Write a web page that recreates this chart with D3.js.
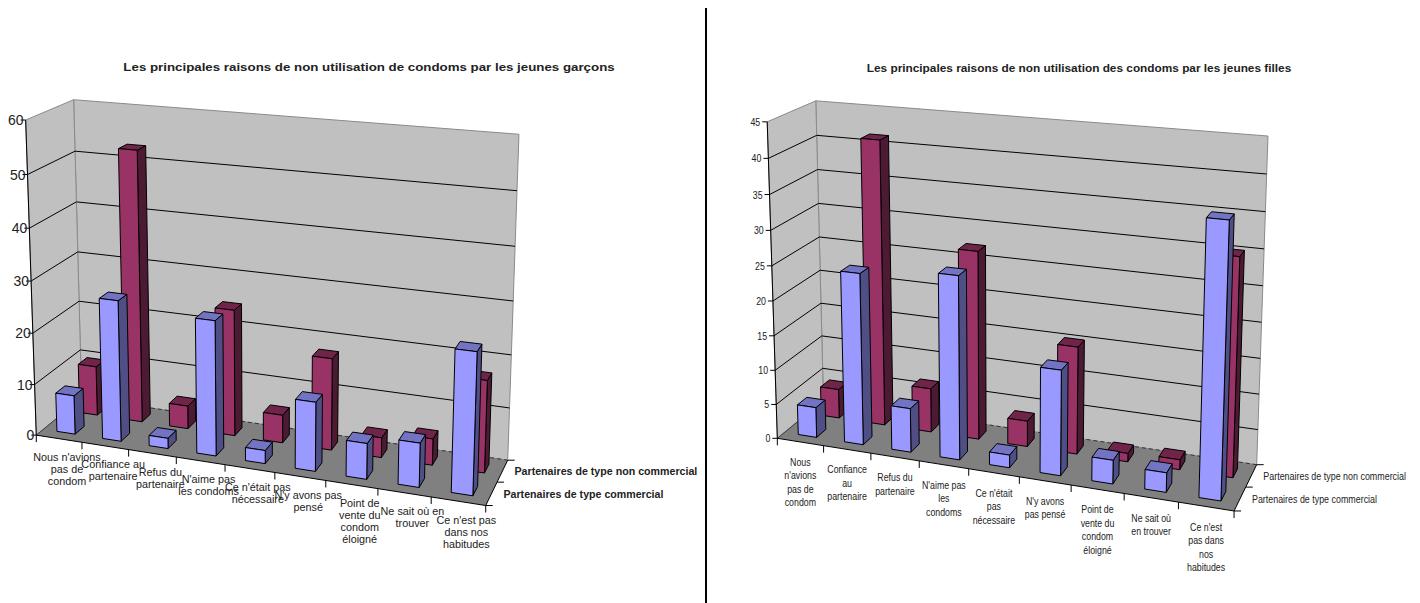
<!DOCTYPE html>
<html lang="fr">
<head>
<meta charset="utf-8">
<title>Raisons de non utilisation des condoms</title>
<script src="https://cdn.jsdelivr.net/npm/d3@7"></script>
<style>
  html, body { margin: 0; padding: 0; background: #fff; }
  svg { display: block; }
  text { font-family: "Liberation Sans", Arial, sans-serif; fill: #222; }
</style>
</head>
<body>
<svg id="chart" width="1420" height="603"></svg>
<script>
// Survey values, in percent
const seriesNames = ["Partenaires de type commercial", "Partenaires de type non commercial"];

const boysCategories = [
  "Nous n'avions|pas de|condom", "Confiance au|partenaire", "Refus du|partenaire",
  "N'aime pas|les condoms", "Ce n'était pas|nécessaire", "N'y avons pas|pensé",
  "Point de|vente du|condom|éloigné", "Ne sait où en|trouver", "Ce n'est pas|dans nos|habitudes"
];
const boysCommercial = [7.6, 27.2, 2, 25.7, 2.5, 13, 6.7, 8.2, 26];
const boysNonCommercial = [9.8, 53, 4.5, 24.5, 5.4, 17.6, 3.8, 5, 17.3];
const boysTicks = [0, 10, 20, 30, 40, 50, 60];

const girlsCategories = [
  "Nous|n'avions|pas de|condom", "Confiance|au|partenaire", "Refus du|partenaire",
  "N'aime pas|les|condoms", "Ce n'était|pas|nécessaire", "N'y avons|pas pensé",
  "Point de|vente du|condom|éloigné", "Ne sait où|en trouver", "Ce n'est|pas dans|nos|habitudes"
];
const girlsCommercial = [4.4, 24.6, 6.3, 25.9, 1.8, 14.7, 3.3, 2.7, 37];
const girlsNonCommercial = [4.3, 41.4, 6.4, 27.1, 3.7, 15.3, 1.2, 1.4, 30.2];
const girlsTicks = [0, 5, 10, 15, 20, 25, 30, 35, 40, 45];

const colors = {
  wall: "#c0c0c0", floor: "#808080", edge: "#8a8a8a", ink: "#000",
  commercial: { front: "#9999ff", top: "#7373c4", side: "#4f4f85" },
  nonCommercial: { front: "#993366", top: "#71244a", side: "#4d1a33" }
};

const svg = d3.select("#chart");

// Fit a 3x4 projective camera to known box corners [u, w, h, x, y] by least squares
function fitCamera(pts) {
  const rows = [], rhs = [];
  pts.forEach(([X, Y, Z, x, y]) => {
    rows.push([X, Y, Z, 1, 0, 0, 0, 0, -x * X, -x * Y, -x * Z]); rhs.push(x);
    rows.push([0, 0, 0, 0, X, Y, Z, 1, -y * X, -y * Y, -y * Z]); rhs.push(y);
  });
  const n = 11;
  const A = d3.range(n).map(i => d3.range(n + 1).map(j =>
    j < n ? d3.sum(rows, r => r[i] * r[j]) : d3.sum(rows, (r, k) => r[i] * rhs[k])));
  for (let i = 0; i < n; i++) {
    let best = i;
    for (let k = i + 1; k < n; k++) if (Math.abs(A[k][i]) > Math.abs(A[best][i])) best = k;
    [A[i], A[best]] = [A[best], A[i]];
    for (let k = 0; k < n; k++) {
      if (k === i) continue;
      const f = A[k][i] / A[i][i];
      for (let j = i; j <= n; j++) A[k][j] -= f * A[i][j];
    }
  }
  const p = d3.range(n).map(i => A[i][n] / A[i][i]);
  return (u, w, h) => {
    const d = p[8] * u + p[9] * w + p[10] * h + 1;
    return [(p[0] * u + p[1] * w + p[2] * h + p[3]) / d,
            (p[4] * u + p[5] * w + p[6] * h + p[7]) / d];
  };
}

const poly = d3.line().curve(d3.curveLinearClosed);

function multiline(g, x, y, str, o) {
  const t = g.append("text")
    .attr("transform", `translate(${x},${y}) scale(${o.sx},1)`)
    .attr("text-anchor", o.anchor || "middle")
    .attr("font-size", o.size);
  str.split("|").forEach((line, i) => {
    t.append("tspan").attr("x", 0).attr("dy", i ? o.leading : 0).text(line);
  });
}

// Single line of text condensed horizontally to a given width
function fittedText(g, x, y, str, width, size, weight, anchor) {
  const t = g.append("text").attr("font-size", size).attr("font-weight", weight)
    .attr("text-anchor", anchor).text(str);
  const k = width / t.node().getComputedTextLength();
  t.attr("transform", `translate(${x},${y}) scale(${k},1)`);
}

function drawPanel(cfg) {
  const g = svg.append("g");
  const P = fitCamera(cfg.corners);
  const x = d3.scaleBand().domain(cfg.categories).range([0, 1]);
  const z = d3.scaleBand().domain(seriesNames).range([0, 1]);
  const y = d3.scaleLinear().domain(d3.extent(cfg.ticks)).range([0, 1]);

  const face = (pts, fill, stroke) => g.append("path")
    .attr("d", poly(pts)).attr("fill", fill)
    .attr("stroke", stroke || "none").attr("stroke-width", 1).attr("stroke-linejoin", "round");
  const seg = (a, b, stroke, width, dash) => g.append("line")
    .attr("x1", a[0]).attr("y1", a[1]).attr("x2", b[0]).attr("y2", b[1])
    .attr("stroke", stroke).attr("stroke-width", width || 1)
    .attr("stroke-dasharray", dash || null);

  // Walls and floor
  face([P(0, 1, 0), P(1, 1, 0), P(1, 1, 1), P(0, 1, 1)], colors.wall, colors.edge);
  face([P(0, 0, 0), P(0, 1, 0), P(0, 1, 1), P(0, 0, 1)], colors.wall, colors.edge);
  face([P(0, 0, 0), P(1, 0, 0), P(1, 1, 0), P(0, 1, 0)], colors.floor);

  // Gridlines wrap from the side wall onto the back wall
  cfg.ticks.slice(1, -1).forEach(t => {
    const h = y(t);
    seg(P(0, 0, h), P(0, 1, h), colors.ink);
    seg(P(0, 1, h), P(1, 1, h), colors.ink);
  });
  seg(P(0, 0, 0), P(0, 1, 0), "#3a3a3a");
  seg(P(0, 1, 0), P(1, 1, 0), "#333", 1, "4,3");

  // Axes and tick marks
  seg(P(0, 0, 0), P(0, 0, 1), colors.ink);
  seg(P(0, 0, 0), P(1, 0, 0), colors.ink);
  seg(P(1, 0, 0), P(1, 1, 0), colors.ink);
  cfg.ticks.forEach(t => {
    const a = P(0, 0, y(t));
    seg(a, [a[0] - 5, a[1]], colors.ink);
    g.append("text")
      .attr("transform", `translate(${a[0] - cfg.tickGap},${a[1] + cfg.tickSize * 0.36}) scale(${cfg.sx},1)`)
      .attr("text-anchor", "end").attr("font-size", cfg.tickSize).text(t);
  });
  d3.range(0, 10).forEach(i => {
    const a = P(i / 9, 0, 0);
    seg(a, [a[0], a[1] + 7], colors.ink);
  });
  [0, 0.5, 1].forEach(w => {
    const a = P(1, w, 0);
    seg(a, [a[0] + 7, a[1]], colors.ink);
  });

  // Bars, the far row first so the near row overlaps it
  const bar = (name, values, c) => {
    const w0 = z(name) + z.bandwidth() * 0.3, w1 = w0 + z.bandwidth() * 0.4;
    cfg.categories.forEach((cat, i) => {
      const u0 = x(cat) + x.bandwidth() * 0.3, u1 = u0 + x.bandwidth() * 0.4;
      const h = y(values[i]);
      face([P(u1, w0, 0), P(u1, w1, 0), P(u1, w1, h), P(u1, w0, h)], c.side, "#000");
      face([P(u0, w0, h), P(u1, w0, h), P(u1, w1, h), P(u0, w1, h)], c.top, "#000");
      face([P(u0, w0, 0), P(u1, w0, 0), P(u1, w0, h), P(u0, w0, h)], c.front, "#000");
    });
  };
  bar(seriesNames[1], cfg.nonCommercial, colors.nonCommercial);
  bar(seriesNames[0], cfg.commercial, colors.commercial);

  // Category labels below the front edge
  cfg.categories.forEach(cat => {
    const a = P(x(cat) + x.bandwidth() / 2, 0, 0);
    multiline(g, a[0] + cfg.labelDx, a[1] + cfg.labelDy, cat,
      { size: cfg.labelSize, sx: cfg.sx, leading: cfg.leading });
  });

  // Depth axis labels
  seriesNames.forEach((name, i) => {
    const a = P(1, z(name) + z.bandwidth() / 2, 0);
    fittedText(g, a[0] + 12, a[1] + 4, name, cfg.seriesWidths[i], cfg.labelSize, cfg.seriesWeight, "start");
  });

  // Chart title
  fittedText(g, cfg.titleX, cfg.titleY, cfg.title, cfg.titleWidth, 11.5, "bold", "middle");
}

drawPanel({
  title: "Les principales raisons de non utilisation de condoms par les jeunes garçons",
  titleX: 369, titleY: 71, titleWidth: 492,
  categories: boysCategories, commercial: boysCommercial, nonCommercial: boysNonCommercial, ticks: boysTicks,
  tickSize: 14, tickGap: 2, sx: 1, labelSize: 10.8, leading: 12, labelDx: 8, labelDy: 22.5,
  seriesWeight: "bold", seriesWidths: [160, 183],
  corners: [
    [0, 0, 0, 36, 435], [1, 0, 0, 485.7, 505.7], [1, 1, 0, 507.7, 460], [0, 1, 0, 82, 398],
    [0, 0, 1, 26, 120], [0, 1, 1, 73.3, 99.7], [1, 1, 1, 519, 134.3]
  ]
});

drawPanel({
  title: "Les principales raisons de non utilisation des condoms par les jeunes filles",
  titleX: 1079, titleY: 72, titleWidth: 425,
  categories: girlsCategories, commercial: girlsCommercial, nonCommercial: girlsNonCommercial, ticks: girlsTicks,
  tickSize: 11, tickGap: 7, sx: 0.8, labelSize: 11, leading: 13.5, labelDx: 0, labelDy: 24,
  seriesWeight: "normal", seriesWidths: [125, 143],
  corners: [
    [0, 0, 0, 777.3, 438.7], [1, 0, 0, 1234, 510.7], [1, 1, 0, 1256.7, 465], [0, 1, 0, 823.5, 400],
    [0, 0, 1, 767.3, 121.7], [0, 1, 1, 815.7, 101], [1, 1, 1, 1268, 136]
  ]
});

// Rule separating the two charts
svg.append("line").attr("x1", 706).attr("x2", 706).attr("y1", 8).attr("y2", 603)
  .attr("stroke", "#000").attr("stroke-width", 2);
</script>
</body>
</html>
